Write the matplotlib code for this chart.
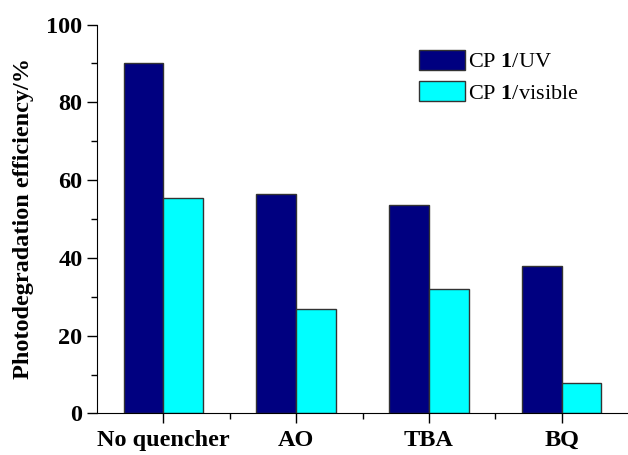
import matplotlib.pyplot as plt
import numpy as np
from matplotlib.ticker import MultipleLocator, FixedLocator

plt.rcParams['font.family'] = 'Liberation Serif'
plt.rcParams['mathtext.fontset'] = 'custom'
plt.rcParams['mathtext.rm'] = 'Liberation Serif'
plt.rcParams['mathtext.bf'] = 'Liberation Serif:bold'

categories = ["No quencher", "AO", "TBA", "BQ"]
uv = [90.0, 56.5, 53.7, 37.9]
visible = [55.4, 26.8, 31.9, 7.9]

x = np.arange(len(categories))
width = 0.3

fig = plt.figure(figsize=(6.28, 4.55), dpi=100)
ax = fig.add_axes([0.1545, 0.0914, 0.8455, 0.8546])

ax.bar(x - width/2, uv, width, color='#000080', edgecolor='#333333', linewidth=1, label='CP $\\mathbf{1}$/UV')
ax.bar(x + width/2, visible, width, color='#00FFFF', edgecolor='#333333', linewidth=1, label='CP $\\mathbf{1}$/visible')

ax.set_xlim(-0.5, 3.5)
ax.set_ylim(0, 100)
ax.set_xticks(x)
ax.set_xticklabels(categories)
ax.xaxis.set_minor_locator(FixedLocator([0.5, 1.5, 2.5]))
ax.yaxis.set_major_locator(MultipleLocator(20))
ax.yaxis.set_minor_locator(MultipleLocator(10))

ax.spines['top'].set_visible(False)
ax.spines['right'].set_visible(False)
ax.tick_params(which='major', direction='out', length=7, width=1, labelsize=17.5)
ax.tick_params(axis='x', which='major', labelsize=17.5, pad=5)
ax.tick_params(which='minor', direction='out', length=4, width=1)
for lab in ax.get_xticklabels() + ax.get_yticklabels():
    lab.set_fontweight('bold')

ax.set_ylabel('Photodegradation efficiency/%', fontsize=17.5, fontweight='bold', labelpad=9)

ax.legend(loc='upper left', bbox_to_anchor=(0.606, 0.935), frameon=False, fontsize=16,
          borderpad=0, borderaxespad=0,
          handlelength=2.1, handleheight=1.0, handletextpad=0.1, labelspacing=0.4)

plt.savefig('out.png', dpi=100)
